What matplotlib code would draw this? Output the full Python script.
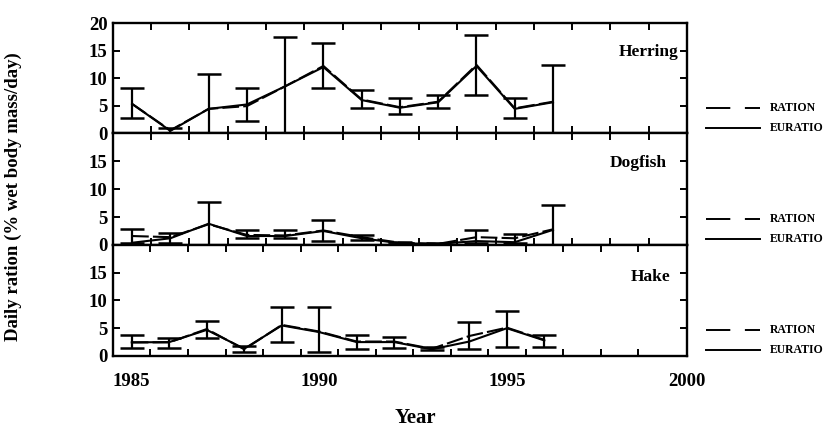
import numpy as np
import matplotlib
matplotlib.use('Agg')
import matplotlib.pyplot as plt

plt.rcParams['font.family'] = ['Liberation Serif', 'DejaVu Serif']
plt.rcParams['font.weight'] = 'bold'

years = [1985, 1986, 1987, 1988, 1989, 1990, 1991, 1992, 1993, 1994, 1995, 1996]

# Herring
herring_ration = [5.3, 0.5, 4.4, 4.9, 8.5, 12.2, 6.1, 4.7, 5.7, 12.4, 4.5, 5.7]
herring_euratio = [5.3, 0.4, 4.4, 5.2, 8.5, 12.0, 6.0, 4.6, 5.6, 12.2, 4.4, 5.6]
herring_hi = [8.2, 1.0, 10.8, 8.2, 17.5, 16.3, 7.8, 6.3, 7.0, 17.8, 6.3, 12.4]
herring_lo = [2.7, 0.1, 0.0, 2.2, 0.0, 8.2, 4.6, 3.5, 4.5, 6.9, 2.7, 0.0]

# Dogfish
dogfish_ration = [1.6, 1.4, 3.7, 1.8, 1.7, 2.6, 1.4, 0.4, 0.2, 1.4, 1.2, 2.8]
dogfish_euratio = [0.4, 1.2, 3.8, 1.6, 1.6, 2.5, 1.2, 0.3, 0.2, 0.7, 0.5, 2.7]
dogfish_hi = [2.9, 2.1, 7.7, 2.6, 2.6, 4.4, 1.8, 0.6, 0.4, 2.6, 2.0, 7.2]
dogfish_lo = [0.3, 0.4, 0.0, 1.2, 1.2, 0.8, 0.9, 0.1, 0.0, 0.3, 0.3, 0.0]

# Hake
hake_ration = [2.45, 2.45, 4.85, 1.2, 5.6, 4.4, 2.6, 2.6, 1.3, 3.6, 5.1, 2.9]
hake_euratio = [2.45, 2.5, 4.7, 1.3, 5.5, 4.3, 2.5, 2.5, 1.2, 2.6, 5.0, 2.8]
hake_hi = [3.7, 3.3, 6.3, 1.8, 8.9, 8.9, 3.7, 3.5, 1.6, 6.2, 8.1, 3.7]
hake_lo = [1.5, 1.5, 3.2, 0.7, 2.5, 0.8, 1.3, 1.5, 1.0, 1.3, 1.7, 1.7]

panels = [
    ('Herring', herring_ration, herring_euratio, herring_hi, herring_lo),
    ('Dogfish', dogfish_ration, dogfish_euratio, dogfish_hi, dogfish_lo),
    ('Hake', hake_ration, hake_euratio, hake_hi, hake_lo),
]
# name label placement (x, y in axes fraction)
name_pos = [(0.985, 0.74), (0.965, 0.735), (0.972, 0.715)]

fig = plt.figure(figsize=(8.27, 4.32), dpi=100)
rects = [[0.1366, 0.692, 0.694, 0.2546],
         [0.1366, 0.4329, 0.694, 0.2591],
         [0.1366, 0.176, 0.694, 0.2569]]

x = np.array(years)
for i, (name, ration, euratio, hi, lo) in enumerate(panels):
    ax = fig.add_axes(rects[i])
    r = np.array(ration)
    yerr = [r - np.array(lo), np.array(hi) - r]
    ax.errorbar(x, r, yerr=yerr, color='black', lw=1.5, ls=(0, (8, 2)),
                capsize=8.5, capthick=1.8, elinewidth=1.6)
    ax.plot(x, euratio, color='black', lw=1.5)
    ax.set_xlim(1984.5, 1999.5)
    ax.set_ylim(0, 20)
    for s in ax.spines.values():
        s.set_linewidth(1.7)
    if i == 0:
        ax.set_yticks([0, 5, 10, 15, 20])
    else:
        ax.set_yticks([0, 5, 10, 15])
    ax.tick_params(axis='y', direction='in', length=5, width=1.4,
                   right=True, labelsize=13.5, pad=4)
    ax.set_xticks(np.arange(1985.5, 1999, 1), minor=True)
    ax.tick_params(axis='x', which='minor', direction='in', length=5,
                   width=1.4, top=True, bottom=True)
    if i == 2:
        ax.set_xticks([1985, 1990, 1995, 1999.8])
        ax.set_xticklabels(['1985', '1990', '1995', '2000'])
        ax.tick_params(axis='x', which='major', length=0, labelsize=13.5, pad=12)
    else:
        ax.set_xticks([])
    for lab in ax.get_yticklabels() + ax.get_xticklabels():
        lab.set_fontweight('bold')
    nx, ny = name_pos[i]
    ax.text(nx, ny, name, transform=ax.transAxes, ha='right',
            va='center', fontsize=12.5, fontweight='bold')

    # legend drawn to the right of each panel
    ax.plot([1.033, 1.127], [0.23, 0.23], transform=ax.transAxes, color='black',
            lw=1.4, ls=(0, (12.5, 7.5)), clip_on=False)
    ax.plot([1.033, 1.127], [0.05, 0.05], transform=ax.transAxes, color='black',
            lw=1.4, clip_on=False)
    ax.text(1.145, 0.23, 'RATION', transform=ax.transAxes, va='center',
            fontsize=8.5, fontweight='bold')
    ax.text(1.145, 0.05, 'EURATIO', transform=ax.transAxes, va='center',
            fontsize=8.5, fontweight='bold')

fig.text(0.502, 0.032, 'Year', ha='center', va='center', fontsize=15,
         fontweight='bold')
fig.text(0.016, 0.545, 'Daily ration (% wet body mass/day)', rotation=90,
         ha='center', va='center', fontsize=13.5, fontweight='bold')

fig.savefig('out.png', dpi=100)
